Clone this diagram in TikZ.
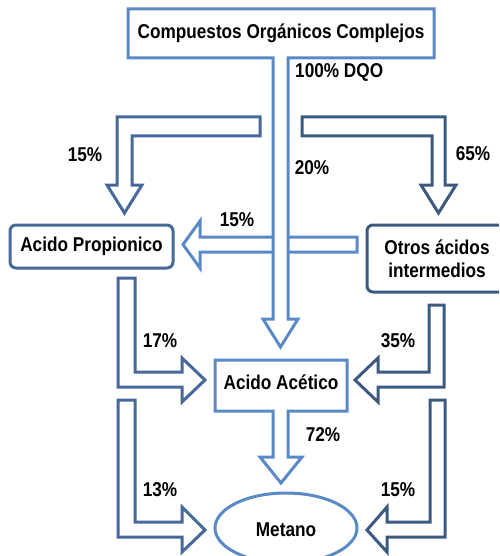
\documentclass[tikz,border=0pt]{standalone}
\usepackage{fontspec}
\setmainfont{Liberation Sans}[FakeStretch=0.86]
\definecolor{lightb}{HTML}{5A8AC6}
\definecolor{midb}{HTML}{46699A}
\definecolor{darkb}{HTML}{3C5A80}
\tikzset{
  blk/.style={line width=3pt, fill=white, line join=miter},
  lbl/.style={font=\fontsize{20}{22}\selectfont\bfseries, inner sep=0pt, text=black},
  boxr/.style={blk, rounded corners=6pt}
}
\begin{document}
\begin{tikzpicture}[x=1pt,y=-1pt]
\useasboundingbox (0,0) rectangle (499,556);
\clip (0,0) rectangle (499,556);
% horizontal 15% arrow (behind the stem)
\draw[blk, draw=lightb] (357,237) -- (200,237) -- (200,221) -- (183,244.5) -- (200,268) -- (200,252) -- (357,252) -- cycle;
% top box with stem
\draw[blk, draw=lightb] (273,58) -- (128,58) -- (128,9) -- (434,9) -- (434,58) -- (288,58) -- (288,319) -- (298,319) -- (280.5,347) -- (263,319) -- (273,319) -- cycle;
\node[lbl] (coc) at (281,33) {Compuestos Orgánicos Complejos};
% left 15%
\draw[blk, draw=midb] (260,117) -- (117,117) -- (117,185) -- (107,185) -- (124.5,213) -- (142,185) -- (132,185) -- (132,136) -- (260,136) -- cycle;
% right 65%
\draw[blk, draw=darkb] (302,117) -- (445,117) -- (445,185) -- (456,185) -- (438.5,213) -- (421,185) -- (432,185) -- (432,136) -- (302,136) -- cycle;
% boxes
\draw[boxr, draw=midb] (10,225) rectangle (173,268);
\node[lbl] (prop) at (91.5,246.5) {Acido Propionico};
\draw[boxr, draw=darkb] (367,225) rectangle (510,292);
\node[lbl, align=center] (otros) at (437,259) {Otros ácidos\\[1pt]intermedios};
% 17%
\draw[blk, draw=midb] (118,278) -- (135,278) -- (135,372) -- (182,372) -- (182,358) -- (205,380) -- (182,402) -- (182,387) -- (118,387) -- cycle;
% 35%
\draw[blk, draw=darkb] (429,305) -- (444,305) -- (444,387) -- (378,387) -- (378,402) -- (355,380) -- (378,358) -- (378,372) -- (429,372) -- cycle;
% Acido Acetico with stem
\draw[blk, draw=lightb] (273,411) -- (215,411) -- (215,360) -- (347,360) -- (347,411) -- (288,411) -- (288,457) -- (302,457) -- (281,483) -- (260,457) -- (273,457) -- cycle;
\node[lbl] (acet) at (281,382) {Acido Acético};
% 13%
\draw[blk, draw=midb] (118,400) -- (135,400) -- (135,522) -- (182,522) -- (182,507) -- (205,530) -- (182,552) -- (182,537) -- (118,537) -- cycle;
% 15% bottom right
\draw[blk, draw=darkb] (430,400) -- (445,400) -- (445,537) -- (387,537) -- (387,552) -- (367,530) -- (387,507) -- (387,522) -- (430,522) -- cycle;
% Metano
\draw[blk, draw=lightb] (286,528) ellipse [x radius=71, y radius=35];
\node[lbl] (met) at (286,530) {Metano};
% labels
\node[lbl, anchor=west] (l100) at (295,72) {100\% DQO};
\node[lbl] (l15a) at (85,155) {15\%};
\node[lbl] (l20) at (312,168) {20\%};
\node[lbl] (l65) at (473,154) {65\%};
\node[lbl] (l15b) at (237,220) {15\%};
\node[lbl] (l17) at (160,341) {17\%};
\node[lbl] (l35) at (398,341) {35\%};
\node[lbl] (l72) at (323,435) {72\%};
\node[lbl] (l13) at (160,490) {13\%};
\node[lbl] (l15c) at (398,490) {15\%};
\end{tikzpicture}
\end{document}
